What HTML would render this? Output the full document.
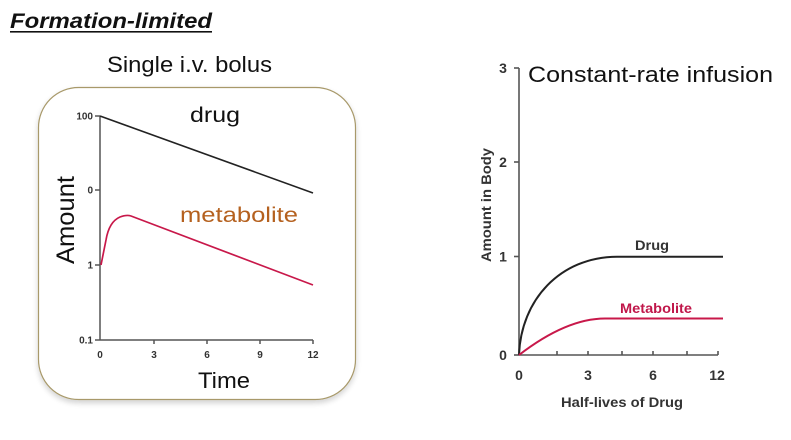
<!DOCTYPE html>
<html>
<head>
<meta charset="utf-8">
<style>
html,body{margin:0;padding:0;background:#fff;}
svg{display:block;}
text{font-family:"Liberation Sans",Arial,sans-serif;}
</style>
</head>
<body>
<svg width="791" height="440" viewBox="0 0 791 440" xmlns="http://www.w3.org/2000/svg">
  <defs>
    <filter id="sh" x="-10%" y="-10%" width="120%" height="130%">
      <feGaussianBlur in="SourceAlpha" stdDeviation="3"/>
      <feOffset dx="0" dy="3" result="b"/>
      <feComponentTransfer><feFuncA type="linear" slope="0.18"/></feComponentTransfer>
      <feMerge><feMergeNode/><feMergeNode in="SourceGraphic"/></feMerge>
    </filter>
  </defs>

  <!-- Title -->
  <text x="10" y="28" font-size="21" font-weight="bold" font-style="italic" fill="#111" textLength="202" lengthAdjust="spacingAndGlyphs">Formation-limited</text>
  <rect x="10" y="31" width="202" height="1.6" fill="#111"/>

  <text x="107" y="72" font-size="22" fill="#111" textLength="165" lengthAdjust="spacingAndGlyphs">Single i.v. bolus</text>

  <!-- rounded box -->
  <rect x="38.5" y="87.5" width="317" height="312" rx="40" ry="40" fill="#fff" stroke="#a8996a" stroke-width="1.2" filter="url(#sh)"/>

  <!-- Left chart axes -->
  <g stroke="#555" stroke-width="1.5" fill="none">
    <line x1="100" y1="116" x2="100" y2="340"/>
    <line x1="100" y1="340" x2="313" y2="340"/>
    <line x1="95" y1="116" x2="100" y2="116"/>
    <line x1="95" y1="190" x2="100" y2="190"/>
    <line x1="95" y1="265" x2="100" y2="265"/>
    <line x1="95" y1="340" x2="100" y2="340"/>
    <line x1="154" y1="340" x2="154" y2="344"/>
    <line x1="207" y1="340" x2="207" y2="344"/>
    <line x1="260" y1="340" x2="260" y2="344"/>
    <line x1="313" y1="340" x2="313" y2="344"/>
  </g>
  <g font-size="10" font-weight="bold" fill="#333" text-anchor="end">
    <text x="93" y="119.5">100</text>
    <text x="93" y="193.5">0</text>
    <text x="93" y="268.5">1</text>
    <text x="93" y="343.5">0.1</text>
  </g>
  <g font-size="10" font-weight="bold" fill="#333" text-anchor="middle">
    <text x="100" y="358">0</text>
    <text x="154" y="358">3</text>
    <text x="207" y="358">6</text>
    <text x="260" y="358">9</text>
    <text x="313" y="358">12</text>
  </g>

  <!-- Left chart series -->
  <line x1="100" y1="116" x2="313" y2="193" stroke="#222" stroke-width="1.6"/>
  <path d="M101,265 L106,240 C108,228 113,220 120,217 C124,215.5 128,215 131,216 L313,285" fill="none" stroke="#c8184a" stroke-width="1.7" stroke-linejoin="round"/>

  <text x="190" y="122" font-size="21" fill="#111" textLength="50" lengthAdjust="spacingAndGlyphs">drug</text>
  <text x="180" y="222" font-size="21" fill="#b5611f" textLength="118" lengthAdjust="spacingAndGlyphs">metabolite</text>
  <text x="198" y="388" font-size="22" fill="#111" textLength="52" lengthAdjust="spacingAndGlyphs">Time</text>
  <text transform="translate(74,264) rotate(-90)" font-size="25" fill="#111" textLength="88" lengthAdjust="spacingAndGlyphs">Amount</text>

  <!-- Right chart -->
  <text x="528" y="82" font-size="22" fill="#111" textLength="245" lengthAdjust="spacingAndGlyphs">Constant-rate infusion</text>

  <g stroke="#555" stroke-width="1.6" fill="none">
    <line x1="519" y1="68" x2="519" y2="355"/>
    <line x1="519" y1="355" x2="718" y2="355"/>
    <line x1="514" y1="68" x2="519" y2="68"/>
    <line x1="514" y1="162" x2="519" y2="162"/>
    <line x1="514" y1="256.5" x2="519" y2="256.5"/>
    <line x1="514" y1="355" x2="519" y2="355"/>
    <line x1="557" y1="355" x2="557" y2="351"/>
    <line x1="588" y1="355" x2="588" y2="351"/>
    <line x1="622" y1="355" x2="622" y2="351"/>
    <line x1="653" y1="355" x2="653" y2="351"/>
    <line x1="687" y1="355" x2="687" y2="351"/>
    <line x1="718" y1="355" x2="718" y2="351"/>
  </g>
  <g font-size="14" font-weight="bold" fill="#333" text-anchor="middle">
    <text x="503" y="73">3</text>
    <text x="503" y="167">2</text>
    <text x="503" y="261.5">1</text>
    <text x="503" y="360">0</text>
    <text x="519" y="380">0</text>
    <text x="588" y="380">3</text>
    <text x="653" y="380">6</text>
    <text x="717" y="380">12</text>
  </g>

  <path d="M519,355 C521,300 560,257 617,256.7 L723,256.7" fill="none" stroke="#222" stroke-width="2"/>
  <path d="M519,355 C545,335 575,318.5 605,318.5 L723,318.5" fill="none" stroke="#c8184a" stroke-width="2"/>

  <text x="635" y="250" font-size="14" font-weight="bold" fill="#333" textLength="34" lengthAdjust="spacingAndGlyphs">Drug</text>
  <text x="620" y="313" font-size="14" font-weight="bold" fill="#c0174a" textLength="72" lengthAdjust="spacingAndGlyphs">Metabolite</text>
  <text x="561" y="407" font-size="13.5" font-weight="bold" fill="#333" textLength="122" lengthAdjust="spacingAndGlyphs">Half-lives of Drug</text>
  <text transform="translate(491,262) rotate(-90)" font-size="13.5" font-weight="bold" fill="#333" textLength="114" lengthAdjust="spacingAndGlyphs">Amount in Body</text>
</svg>
</body>
</html>
